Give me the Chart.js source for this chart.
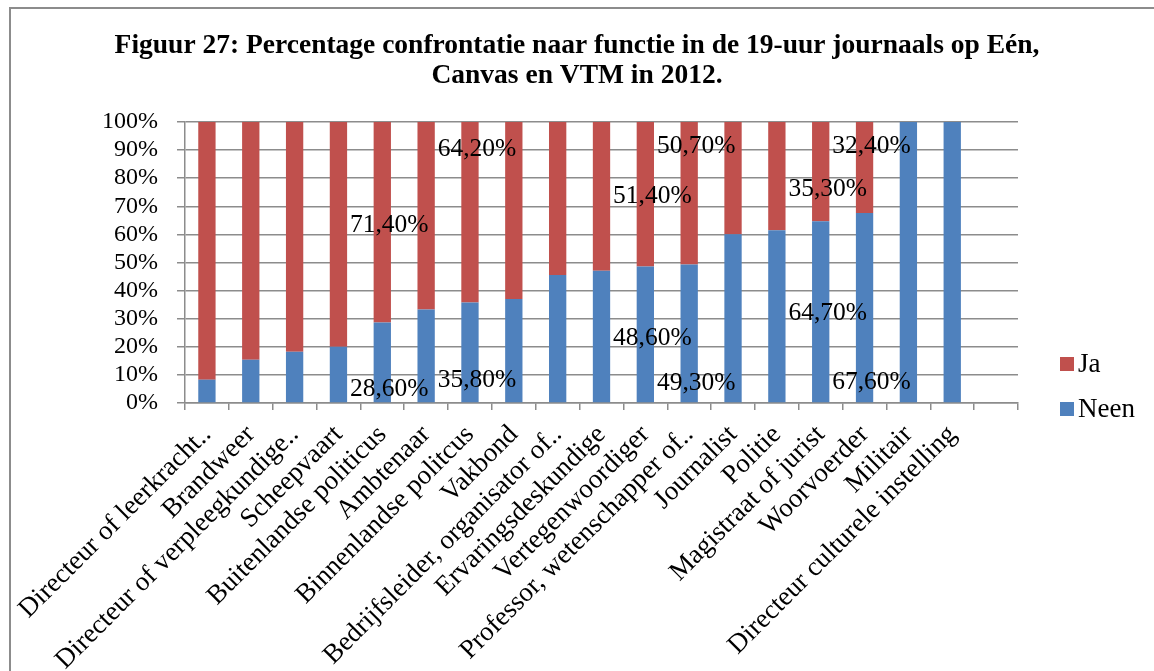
<!DOCTYPE html>
<html>
<head>
<meta charset="utf-8">
<script src="https://cdn.jsdelivr.net/npm/chart.js@4.4.1/dist/chart.umd.min.js"></script>
<style>
  html, body { margin: 0; padding: 0; background: #fff; }
  #wrap { width: 1154px; height: 671px; }
</style>
</head>
<body>
<div id="wrap"><canvas id="chart1" width="1154" height="671"></canvas></div>
<script>
// categories (last slot is empty, like in the original)
const categories = [
    'Directeur of leerkracht..', 'Brandweer', 'Directeur of verpleegkundige..', 'Scheepvaart',
    'Buitenlandse politicus', 'Ambtenaar', 'Binnenlandse politcus', 'Vakbond',
    'Bedrijfsleider, organisator of..', 'Ervaringsdeskundige', 'Vertegenwoordiger',
    'Professor, wetenschapper of..', 'Journalist', 'Politie', 'Magistraat of jurist',
    'Woorvoerder', 'Militair', 'Directeur culturele instelling', ''
]
const neen = [8.3, 15.4, 18.2, 20.0, 28.6, 33.3, 35.8, 37.0, 45.5, 47.1, 48.6, 49.3, 60.0, 61.5, 64.7, 67.6, 100, 100, null]
const ja = [91.7, 84.6, 81.8, 80.0, 71.4, 66.7, 64.2, 63.0, 54.5, 52.9, 51.4, 50.7, 40.0, 38.5, 35.3, 32.4, 0, 0, null]
const yTicks = [0, 10, 20, 30, 40, 50, 60, 70, 80, 90, 100]

// which values got a data label: [series, category, height on the axis where the label sits]
const labelled = [
    [0, 4, 4.9], [1, 4, 63.4],
    [0, 6, 8.1], [1, 6, 90.2],
    [0, 10, 23.1], [1, 10, 73.4],
    [0, 11, 7.0], [1, 11, 91.3],
    [0, 14, 32.0], [1, 14, 76.0],
    [0, 15, 7.4], [1, 15, 91.3]
]

const serif = "'Liberation Serif', 'Times New Roman', serif"
const gridGray = '#8c8c8c'

// frame, data labels and legend
const extras = {
    id: 'extras',
    beforeDraw(chart) {
        const ctx = chart.ctx
        ctx.save()
        ctx.strokeStyle = gridGray
        ctx.lineWidth = 2
        ctx.beginPath()
        ctx.moveTo(10, 671)
        ctx.lineTo(10, 8)
        ctx.lineTo(1154, 8)
        ctx.stroke()
        ctx.restore()
    },
    afterDatasetsDraw(chart) {
        const ctx = chart.ctx
        const x = chart.scales.x, y = chart.scales.y
        ctx.save()
        ctx.font = '25.5px ' + serif
        ctx.fillStyle = '#000'
        ctx.textAlign = 'center'
        ctx.textBaseline = 'middle'
        labelled.forEach(([s, c, at]) => {
            const v = chart.data.datasets[s].data[c]
            ctx.fillText(v.toFixed(2).replace('.', ',') + '%', x.getPixelForValue(c) + 7, y.getPixelForValue(at))
        })
        ctx.restore()
    },
    afterDraw(chart) {
        const ctx = chart.ctx
        ctx.save()
        ctx.font = '27px ' + serif
        ctx.textBaseline = 'middle'
        ctx.textAlign = 'left'
        const rows = [[1, 364], [0, 409]]
        rows.forEach(([i, cy]) => {
            const ds = chart.data.datasets[i]
            ctx.fillStyle = ds.backgroundColor
            ctx.fillRect(1060, cy - 7, 14, 14)
            ctx.fillStyle = '#000'
            ctx.fillText(ds.label, 1078, cy + 1)
        })
        ctx.restore()
    }
}

var chart1 = document.getElementById('chart1').getContext('2d')
new Chart(chart1, {
    type: 'bar',
    data: {
        labels: categories,
        datasets: [{
            label: 'Neen',
            data: neen,
            backgroundColor: '#4F81BD'
        }, {
            label: 'Ja',
            data: ja,
            backgroundColor: '#C0504D'
        }]
    },
    options: {
        responsive: false,
        animation: false,
        layout: { padding: 0 },
        datasets: { bar: { categoryPercentage: 1, barPercentage: 0.395 } },
        plugins: {
            legend: { display: false },
            tooltip: { enabled: false },
            title: {
                display: true,
                text: ['Figuur 27: Percentage confrontatie naar functie in de 19-uur journaals op Eén,',
                       'Canvas en VTM in 2012.'],
                color: '#000',
                font: { family: serif, size: 27.5, weight: 'bold', lineHeight: 1.09 },
                padding: { top: 31, bottom: 31 }
            }
        },
        scales: {
            x: {
                stacked: true,
                grid: { display: true, drawOnChartArea: false, drawTicks: true, tickLength: 7, color: gridGray, lineWidth: 1.5 },
                border: { color: gridGray, width: 1.5 },
                ticks: {
                    autoSkip: false, minRotation: 45, maxRotation: 45, padding: 9,
                    color: '#000', font: { family: serif, size: 27 }
                },
                afterFit: s => { s.height = 268 }
            },
            y: {
                stacked: true,
                min: 0, max: 100,
                grid: { color: gridGray, lineWidth: 1.5, tickLength: 8 },
                border: { color: gridGray, width: 1.5 },
                afterBuildTicks: s => { s.ticks = yTicks.map(v => ({ value: v })) },
                ticks: {
                    autoSkip: false,
                    padding: 19,
                    color: '#000', font: { family: serif, size: 24 },
                    callback: v => v + '%'
                },
                afterFit: s => { s.width = 185 }
            },
            // empty space on the right for the legend
            side: {
                position: 'right',
                display: true,
                grid: { display: false },
                border: { display: false },
                ticks: { display: false },
                afterFit: s => { s.width = 136 }
            }
        }
    },
    plugins: [extras]
})
</script>
</body>
</html>
